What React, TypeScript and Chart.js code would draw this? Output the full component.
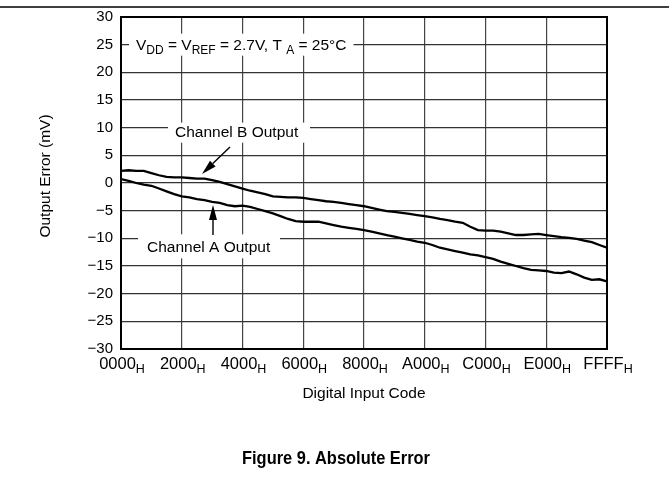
import React, { useEffect, useRef } from "react";
import { Chart, registerables } from "chart.js";

Chart.register(...registerables);

const FONT = '"Liberation Sans", Arial, Helvetica, sans-serif';

// DAC input codes (decimal), sampled every 0x400
const inputCodes = [
  0, 1024, 2048, 3072, 4096, 5120, 6144, 7168, 8192, 9216, 10240, 11264, 12288,
  13312, 14336, 15360, 16384, 17408, 18432, 19456, 20480, 21504, 22528, 23552,
  24576, 25600, 26624, 27648, 28672, 29696, 30720, 31744, 32768, 33792, 34816,
  35840, 36864, 37888, 38912, 39936, 40960, 41984, 43008, 44032, 45056, 46080,
  47104, 48128, 49152, 50176, 51200, 52224, 53248, 54272, 55296, 56320, 57344,
  58368, 59392, 60416, 61440, 62464, 63488, 64512, 65535,
];

// Output error, mV
const channelB = [
  2.2, 2.3, 2.2, 2.2, 1.8, 1.4, 1.1, 1.0, 1.0, 0.9, 0.8, 0.8, 0.5, 0.2, -0.2,
  -0.6, -1.0, -1.4, -1.7, -2.0, -2.4, -2.5, -2.6, -2.6, -2.7, -2.9, -3.1, -3.3,
  -3.4, -3.6, -3.8, -4.0, -4.2, -4.5, -4.8, -5.1, -5.2, -5.4, -5.6, -5.8, -6.0,
  -6.2, -6.5, -6.7, -7.0, -7.2, -7.9, -8.5, -8.6, -8.6, -8.8, -9.1, -9.4, -9.4,
  -9.3, -9.2, -9.4, -9.6, -9.8, -9.9, -10.1, -10.4, -10.7, -11.2, -11.7,
];

const channelA = [
  0.7, 0.4, 0.0, -0.3, -0.5, -1.0, -1.5, -2.0, -2.4, -2.6, -2.9, -3.1, -3.4,
  -3.6, -4.0, -4.2, -4.1, -4.3, -4.7, -5.1, -5.5, -6.0, -6.5, -6.9, -7.0, -7.0,
  -7.0, -7.3, -7.6, -7.9, -8.1, -8.3, -8.5, -8.8, -9.1, -9.4, -9.7, -10.0,
  -10.3, -10.6, -10.8, -11.2, -11.7, -12.0, -12.3, -12.6, -12.9, -13.1, -13.4,
  -13.7, -14.2, -14.6, -15.0, -15.4, -15.7, -15.8, -15.9, -16.2, -16.3, -16.0,
  -16.5, -17.1, -17.5, -17.4, -17.8,
];

const xTickCodes = [0, 8192, 16384, 24576, 32768, 40960, 49152, 57344, 65535];
const xTickLabels = ["0000", "2000", "4000", "6000", "8000", "A000", "C000", "E000", "FFFF"];

const yMin = -30;
const yMax = 30;
const yStep = 5;

type Seg = { t: string; sub?: boolean };

function drawRich(ctx: CanvasRenderingContext2D, segs: Seg[], x: number, y: number, size: number, subSize: number, subDrop: number) {
  let cx = x;
  for (const s of segs) {
    ctx.font = `${s.sub ? subSize : size}px ${FONT}`;
    ctx.fillText(s.t, cx, s.sub ? y + subDrop : y);
    cx += ctx.measureText(s.t).width;
  }
  return cx - x;
}

function measureRich(ctx: CanvasRenderingContext2D, segs: Seg[], size: number, subSize: number) {
  let w = 0;
  for (const s of segs) {
    ctx.font = `${s.sub ? subSize : size}px ${FONT}`;
    w += ctx.measureText(s.t).width;
  }
  return w;
}

function arrow(ctx: CanvasRenderingContext2D, x0: number, y0: number, x1: number, y1: number) {
  const ang = Math.atan2(y1 - y0, x1 - x0);
  const len = 15;
  const half = 4;
  const bx = x1 - len * Math.cos(ang);
  const by = y1 - len * Math.sin(ang);
  ctx.save();
  ctx.strokeStyle = "#000";
  ctx.fillStyle = "#000";
  ctx.lineWidth = 1.4;
  ctx.beginPath();
  ctx.moveTo(x0, y0);
  ctx.lineTo(bx, by);
  ctx.stroke();
  ctx.beginPath();
  ctx.moveTo(x1, y1);
  ctx.lineTo(bx + half * Math.sin(ang), by - half * Math.cos(ang));
  ctx.lineTo(bx - half * Math.sin(ang), by + half * Math.cos(ang));
  ctx.closePath();
  ctx.fill();
  ctx.restore();
}

const decorations = {
  id: "decorations",
  beforeDatasetsDraw(chart: any) {
    const ctx: CanvasRenderingContext2D = chart.ctx;
    const ys = chart.scales.y;
    ctx.save();
    ctx.textBaseline = "alphabetic";
    ctx.textAlign = "left";

    // condition note on the +25 mV line
    const cond: Seg[] = [
      { t: "V" }, { t: "DD", sub: true }, { t: " = V" }, { t: "REF", sub: true },
      { t: " = 2.7V, T " }, { t: "A", sub: true }, { t: " = 25\u00B0C" },
    ];
    const yc = ys.getPixelForValue(25);
    const condW = measureRich(ctx, cond, 15.5, 12);
    ctx.fillStyle = "#fff";
    ctx.fillRect(129, yc - 11, condW + 14, 22);
    ctx.fillStyle = "#000";
    drawRich(ctx, cond, 136, yc + 5.5, 15.5, 12, 4);

    // series labels
    ctx.font = `15.5px ${FONT}`;
    const yb = ys.getPixelForValue(10);
    ctx.fillStyle = "#fff";
    ctx.fillRect(168, yb - 5, 142, 20);
    ctx.fillStyle = "#000";
    ctx.fillText("Channel B Output", 175, yb + 9.5);

    const ya = ys.getPixelForValue(-10);
    ctx.fillStyle = "#fff";
    ctx.fillRect(138, ya - 4, 142, 24);
    ctx.fillStyle = "#000";
    ctx.fillText("Channel A Output", 147, ya + 13.5);

    arrow(ctx, 230, 147, 202, 174);
    arrow(ctx, 213, 235, 213, 205);

    ctx.restore();
  },
  afterDraw(chart: any) {
    const ctx: CanvasRenderingContext2D = chart.ctx;
    const { left, right, top, bottom } = chart.chartArea;
    const xs = chart.scales.x;
    ctx.save();

    // frame
    ctx.strokeStyle = "#000";
    ctx.lineWidth = 2;
    ctx.strokeRect(left, top, right - left, bottom - top);

    // rule across the page top
    ctx.lineWidth = 1.5;
    ctx.beginPath();
    ctx.moveTo(0, 7);
    ctx.lineTo(chart.width, 7);
    ctx.stroke();

    // hex tick labels with subscript H
    ctx.fillStyle = "#000";
    ctx.textAlign = "left";
    ctx.textBaseline = "alphabetic";
    xTickCodes.forEach((code, i) => {
      const segs: Seg[] = [{ t: xTickLabels[i] }, { t: "H", sub: true }];
      const w = measureRich(ctx, segs, 16.5, 12.5);
      const gx = xs.getPixelForValue(code);
      drawRich(ctx, segs, gx - w / 2 + 1, bottom + 20, 16.5, 12.5, 4);
    });

    // axis titles
    ctx.font = `15.5px ${FONT}`;
    ctx.textAlign = "center";
    ctx.textBaseline = "middle";
    ctx.fillText("Digital Input Code", (left + right) / 2, 394);

    ctx.save();
    ctx.translate(46, 176);
    ctx.rotate(-Math.PI / 2);
    ctx.fillText("Output Error (mV)", 0, 0);
    ctx.restore();

    // figure caption
    ctx.font = `bold 17.5px ${FONT}`;
    ctx.textBaseline = "alphabetic";
    ctx.fillText("Figure 9. Absolute Error", 336, 464, 188);

    ctx.restore();
  },
};

export default function App() {
  const canvasRef = useRef<HTMLCanvasElement | null>(null);

  useEffect(() => {
    if (!canvasRef.current) return;
    const chart = new Chart(canvasRef.current, {
      type: "line",
      data: {
        datasets: [
          {
            label: "Channel B Output",
            data: inputCodes.map((c, i) => ({ x: c, y: channelB[i] })),
            borderColor: "#000",
            borderWidth: 2.3,
            pointRadius: 0,
            tension: 0,
          },
          {
            label: "Channel A Output",
            data: inputCodes.map((c, i) => ({ x: c, y: channelA[i] })),
            borderColor: "#000",
            borderWidth: 2.3,
            pointRadius: 0,
            tension: 0,
          },
        ],
      },
      options: {
        animation: false,
        responsive: true,
        maintainAspectRatio: false,
        layout: { padding: { left: 81, top: 17, right: 62, bottom: 144 } },
        plugins: {
          legend: { display: false },
          tooltip: { enabled: false },
          title: { display: false },
        },
        scales: {
          x: {
            type: "linear",
            min: 0,
            max: 65535,
            afterBuildTicks: (s: any) => {
              s.ticks = xTickCodes.map((v) => ({ value: v }));
            },
            afterFit: (s: any) => {
              s.height = 0;
            },
            ticks: { display: false },
            grid: { color: "#444", lineWidth: 1.2, drawTicks: false },
            border: { display: false },
          },
          y: {
            type: "linear",
            min: yMin,
            max: yMax,
            afterFit: (s: any) => {
              s.width = 40;
            },
            ticks: {
              stepSize: yStep,
              padding: 8,
              color: "#000",
              font: { family: FONT, size: 15 },
              callback: (v: any) => (Number(v) < 0 ? "\u2212" + Math.abs(Number(v)) : String(v)),
            },
            grid: { color: "#333", lineWidth: 1.2, drawTicks: false },
            border: { display: false },
          },
        },
      },
      plugins: [decorations],
    });
    return () => chart.destroy();
  }, []);

  return (
    <div style={{ position: "fixed", left: 0, top: 0, width: 669, height: 493, background: "#fff" }}>
      <canvas ref={canvasRef} />
    </div>
  );
}
